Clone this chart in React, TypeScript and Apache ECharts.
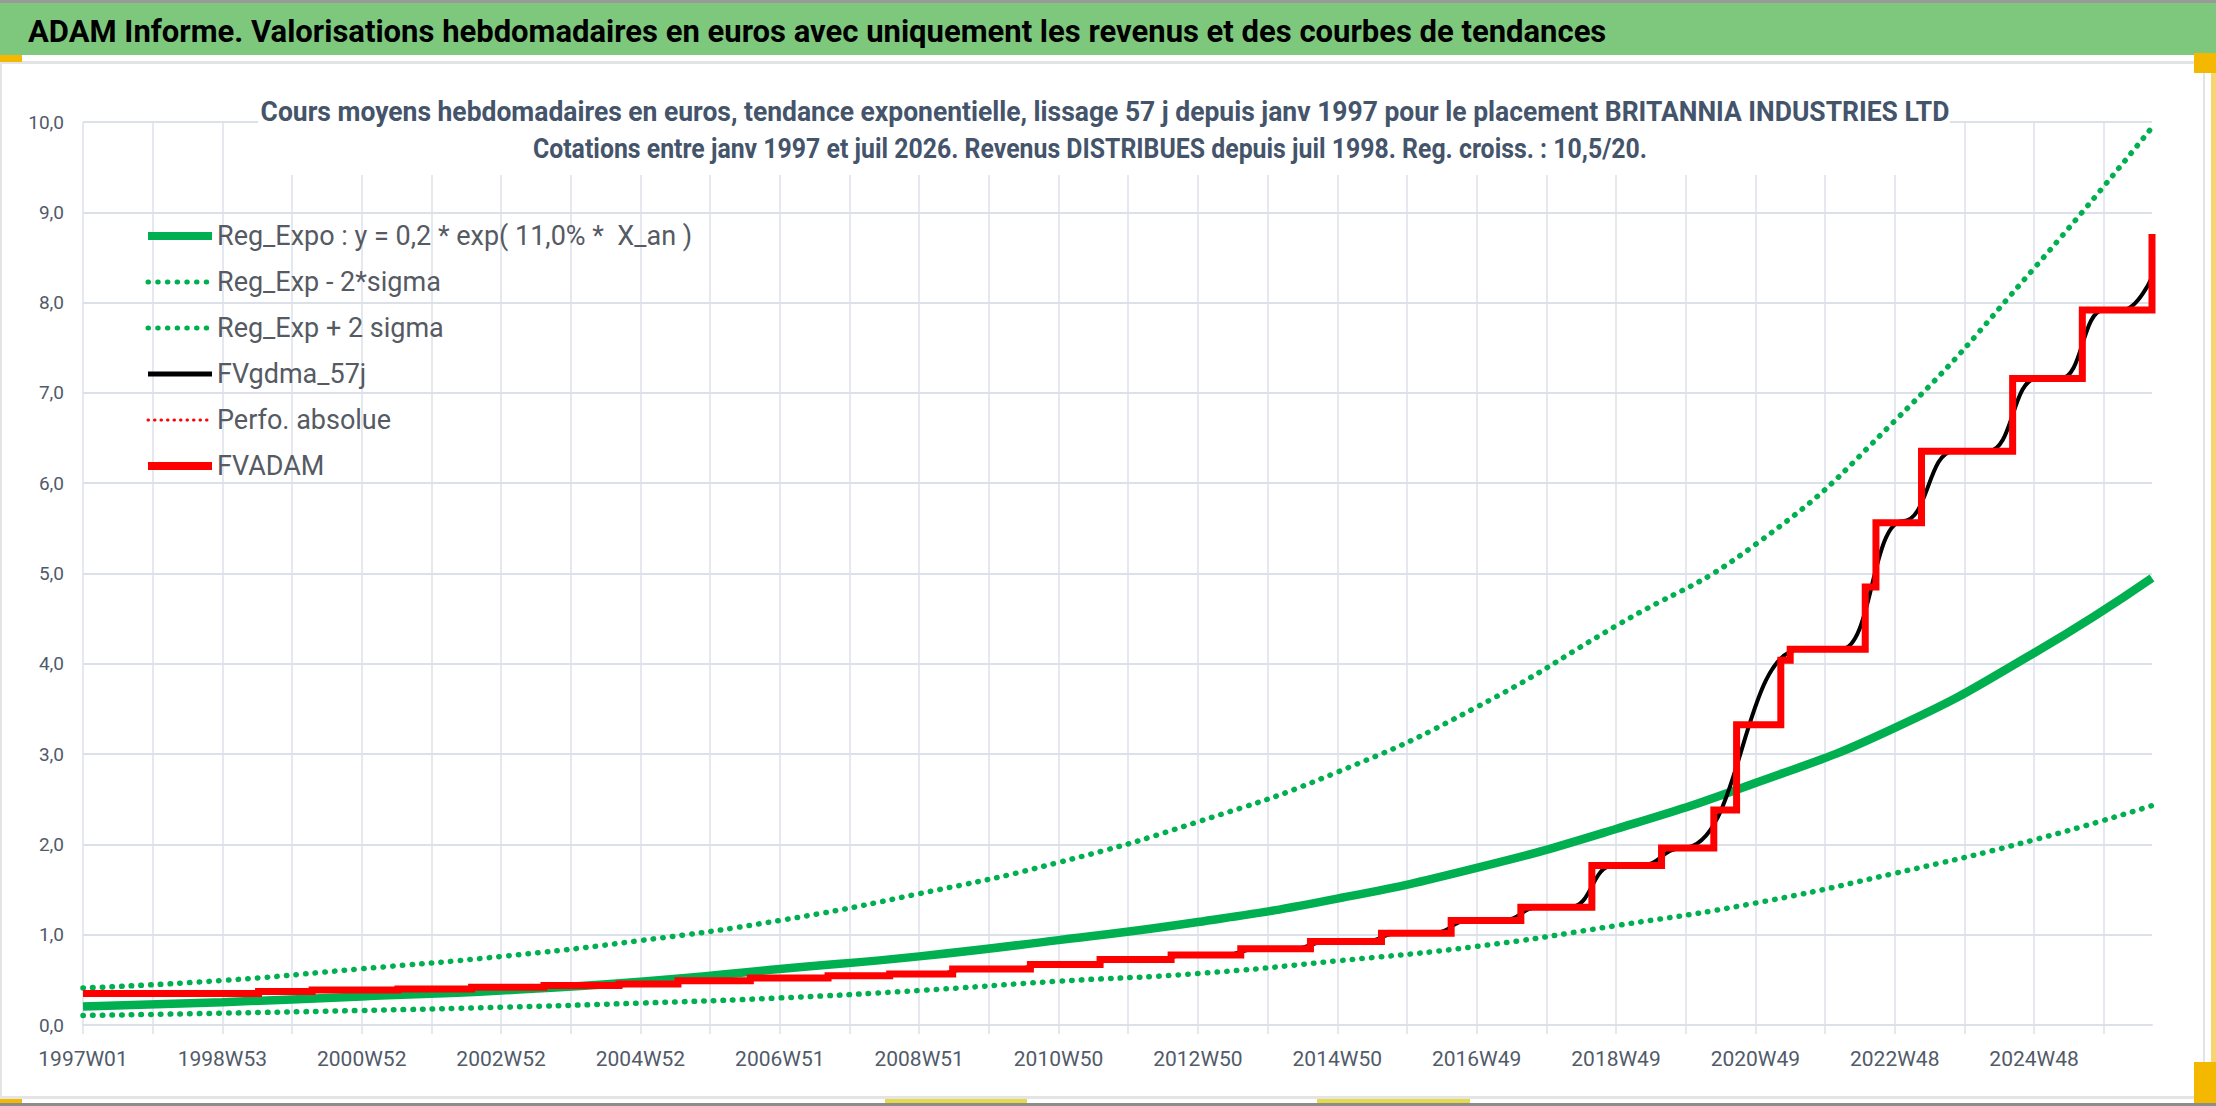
import React, { useEffect, useRef } from "react";
import * as echarts from "echarts";

const FONT = "Roboto, 'Liberation Sans', sans-serif";
const GRID = "#DCE0E8";
const LABEL = "#515A69";
const GREEN = "#00B050";

const mainTitle =
  "ADAM Informe. Valorisations hebdomadaires en euros avec uniquement les revenus et des courbes de tendances";
const subTitle1 =
  "Cours moyens hebdomadaires en euros, tendance exponentielle, lissage 57 j depuis janv 1997 pour le placement BRITANNIA INDUSTRIES LTD";
const subTitle2 =
  "Cotations entre janv 1997 et juil 2026. Revenus DISTRIBUES depuis juil 1998. Reg. croiss. : 10,5/20.";

// one label every 104 weeks
const xTickLabels = [
  "1997W01", "1998W53", "2000W52", "2002W52", "2004W52", "2006W51", "2008W51",
  "2010W50", "2012W50", "2014W50", "2016W49", "2018W49", "2020W49", "2022W48", "2024W48",
];

const seriesNames = [
  "Reg_Expo : y = 0,2 * exp( 11,0% *  X_an )",
  "Reg_Exp - 2*sigma",
  "Reg_Exp + 2 sigma",
  "FVgdma_57j",
  "Perfo. absolue",
  "FVADAM",
];

// week index (from 1997W01) of the trend readings
const trendWeeks = [0, 104, 208, 312, 416, 520, 624, 728, 832, 936, 1040, 1144, 1248, 1352, 1456, 1544];
const regExpo = [0.205, 0.253, 0.316, 0.382, 0.48, 0.62, 0.76, 0.94, 1.14, 1.4, 1.74, 2.17, 2.68, 3.29, 4.12, 4.95];
const regExpMinus = [0.105, 0.131, 0.161, 0.197, 0.243, 0.3, 0.382, 0.485, 0.57, 0.71, 0.87, 1.1, 1.35, 1.68, 2.05, 2.43];
const regExpPlus = [0.41, 0.493, 0.623, 0.759, 0.935, 1.158, 1.454, 1.8, 2.25, 2.8, 3.52, 4.42, 5.32, 6.69, 8.38, 9.94];

// [week, value] : value reached at that week
const fvAdam = [
  [0, 0.35], [131, 0.372], [171, 0.387], [235, 0.4], [290, 0.418], [344, 0.438],
  [400, 0.455], [444, 0.49], [498, 0.52], [556, 0.545], [602, 0.565], [649, 0.62],
  [707, 0.67], [759, 0.725], [812, 0.774], [864, 0.844], [916, 0.925], [969, 1.017],
  [1021, 1.158], [1073, 1.305], [1126, 1.767], [1178, 1.96], [1217, 2.38], [1234, 3.325],
  [1267, 4.04], [1274, 4.16], [1330, 4.85], [1338, 5.562], [1372, 6.355], [1440, 7.16],
  [1492, 7.918], [1544, 8.76],
];

const fvGdma = [
  [0, 0.35], [121, 0.35], [141, 0.372], [161, 0.372], [181, 0.387], [225, 0.387],
  [245, 0.4], [280, 0.4], [300, 0.418], [334, 0.418], [354, 0.438], [390, 0.438],
  [410, 0.455], [434, 0.455], [454, 0.49], [488, 0.49], [508, 0.52], [546, 0.52],
  [566, 0.545], [592, 0.545], [612, 0.565], [639, 0.565], [659, 0.62], [697, 0.62],
  [717, 0.67], [749, 0.67], [769, 0.725], [802, 0.725], [822, 0.774], [852, 0.774],
  [876, 0.844], [904, 0.844], [928, 0.925], [957, 0.925], [981, 1.017], [1007, 1.017],
  [1035, 1.158], [1059, 1.158], [1087, 1.305], [1110, 1.305], [1142, 1.767], [1162, 1.767],
  [1194, 1.96], [1282, 4.16], [1312, 4.16], [1358, 5.58], [1396, 6.355], [1422, 6.355],
  [1458, 7.16], [1476, 7.16], [1508, 7.918], [1522, 7.918], [1544, 8.28],
];

const perfoAbsolue: number[][] = [];

const pairs = (vals: number[]) => vals.map((v, i) => [trendWeeks[i], v]);

const dotted = [0.5, 9.2];
const hiddenSymbol = { opacity: 0 };

const App: React.FC = () => {
  const chartRef = useRef<HTMLDivElement>(null);

  useEffect(() => {
    const chart = echarts.init(chartRef.current!, undefined, { renderer: "svg" });

    const option: echarts.EChartsOption = {
      animation: false,
      backgroundColor: "#ffffff",
      grid: { left: 83, right: 64, top: 122, bottom: 81 },
      legend: {
        orient: "vertical",
        left: 144,
        top: 221,
        padding: 0,
        itemWidth: 64,
        itemHeight: 14,
        itemGap: 16,
        selectedMode: false,
        textStyle: { fontFamily: FONT, fontSize: 27, color: "#555A63", lineHeight: 30 },
        data: [
          { name: seriesNames[0], lineStyle: { width: 8 }, itemStyle: hiddenSymbol },
          { name: seriesNames[1], lineStyle: { width: 5 }, itemStyle: hiddenSymbol },
          { name: seriesNames[2], lineStyle: { width: 5 }, itemStyle: hiddenSymbol },
          { name: seriesNames[3], lineStyle: { width: 5 }, itemStyle: hiddenSymbol },
          { name: seriesNames[4], lineStyle: { width: 3 }, itemStyle: hiddenSymbol },
          { name: seriesNames[5], lineStyle: { width: 8 }, itemStyle: hiddenSymbol },
        ],
      } as any,
      xAxis: {
        type: "value",
        min: 0,
        max: 1544,
        interval: 52,
        axisLine: { show: true, lineStyle: { color: GRID, width: 2 } },
        axisTick: { show: true, length: 9, lineStyle: { color: GRID, width: 1.5 } },
        splitLine: { show: true, showMaxLine: false, lineStyle: { color: GRID, width: 1.5 } },
        axisLabel: {
          fontFamily: FONT,
          fontSize: 21,
          color: LABEL,
          margin: 23,
          showMaxLabel: false,
          formatter: (v: number) => (v % 104 === 0 ? xTickLabels[v / 104] ?? "" : ""),
        },
      } as any,
      yAxis: {
        type: "value",
        min: 0,
        max: 10,
        interval: 1,
        axisLine: { show: false },
        axisTick: { show: false },
        splitLine: { show: true, lineStyle: { color: GRID, width: 2 } },
        axisLabel: {
          fontFamily: FONT,
          fontSize: 19,
          color: LABEL,
          margin: 19,
          formatter: (v: number) => v.toFixed(1).replace(".", ","),
        },
      },
      series: [
        {
          name: seriesNames[0],
          type: "line",
          data: pairs(regExpo),
          smooth: true,
          symbol: "none",
          lineStyle: { color: GREEN, width: 8.5 },
          itemStyle: { color: GREEN },
        },
        {
          name: seriesNames[1],
          type: "line",
          data: pairs(regExpMinus),
          smooth: true,
          symbol: "none",
          lineStyle: { color: GREEN, width: 5.5, type: dotted, cap: "round" },
          itemStyle: { color: GREEN },
        },
        {
          name: seriesNames[2],
          type: "line",
          data: pairs(regExpPlus),
          smooth: true,
          symbol: "none",
          lineStyle: { color: GREEN, width: 5.5, type: dotted, cap: "round" },
          itemStyle: { color: GREEN },
        },
        {
          name: seriesNames[3],
          type: "line",
          data: fvGdma,
          smooth: 0.5,
          smoothMonotone: "x",
          symbol: "none",
          lineStyle: { color: "#000000", width: 4 },
          itemStyle: { color: "#000000" },
        },
        {
          name: seriesNames[4],
          type: "line",
          data: perfoAbsolue,
          symbol: "none",
          lineStyle: { color: "#FF0000", width: 3, type: [0.5, 6], cap: "round" },
          itemStyle: { color: "#FF0000" },
        },
        {
          name: seriesNames[5],
          type: "line",
          data: fvAdam,
          step: "end",
          symbol: "none",
          lineStyle: { color: "#FF0000", width: 7, join: "miter" },
          itemStyle: { color: "#FF0000" },
        },
      ],
      graphic: [
        { type: "rect", shape: { x: 0, y: 0, width: 2216, height: 3 }, style: { fill: "#9A9A9A" }, silent: true },
        { type: "rect", shape: { x: 0, y: 3, width: 2216, height: 52 }, style: { fill: "#7EC87E" }, silent: true },
        { type: "rect", shape: { x: 0, y: 61, width: 2205, height: 3 }, style: { fill: "#E4E4E4" }, silent: true },
        { type: "rect", shape: { x: 0, y: 64, width: 2, height: 1034 }, style: { fill: "#E4E4E4" }, silent: true },
        { type: "rect", shape: { x: 2203, y: 64, width: 2, height: 1034 }, style: { fill: "#E4E4E4" }, silent: true },
        { type: "rect", shape: { x: 0, y: 1096, width: 2205, height: 3 }, style: { fill: "#E4E4E4" }, silent: true },
        { type: "rect", shape: { x: 0, y: 1103, width: 2216, height: 3 }, style: { fill: "#8C8C8C" }, silent: true },
        { type: "rect", shape: { x: 0, y: 55, width: 22, height: 7 }, style: { fill: "#F5B800" }, silent: true },
        { type: "rect", shape: { x: 2194, y: 53, width: 22, height: 20 }, style: { fill: "#F5B800" }, silent: true },
        { type: "rect", shape: { x: 2211, y: 73, width: 5, height: 990 }, style: { fill: "#F8D470" }, silent: true },
        { type: "rect", shape: { x: 2194, y: 1062, width: 22, height: 41 }, style: { fill: "#F5B800" }, silent: true },
        { type: "rect", shape: { x: 0, y: 1099, width: 22, height: 4 }, style: { fill: "#F5B800" }, silent: true },
        { type: "rect", shape: { x: 885, y: 1099, width: 142, height: 4 }, style: { fill: "#E6D94C" }, silent: true },
        { type: "rect", shape: { x: 1317, y: 1099, width: 153, height: 4 }, style: { fill: "#E6D94C" }, silent: true },
        {
          type: "text",
          x: 28,
          y: 31,
          silent: true,
          style: {
            text: mainTitle,
            fontFamily: FONT,
            fontSize: 31,
            fontWeight: "bold",
            fill: "#000000",
            textVerticalAlign: "middle",
          } as any,
        },
        {
          type: "rect",
          z: 50,
          shape: { x: 258, y: 86, width: 1692, height: 89 },
          style: { fill: "#ffffff" },
          silent: true,
        },
        {
          type: "text",
          z: 51,
          x: 1105,
          y: 112,
          scaleX: 0.98,
          silent: true,
          style: {
            text: subTitle1,
            fontFamily: FONT,
            fontSize: 27,
            fontWeight: "bold",
            fill: "#44546A",
            textAlign: "center",
            textVerticalAlign: "middle",
          } as any,
        },
        {
          type: "text",
          z: 51,
          x: 1090,
          y: 149,
          scaleX: 0.92,
          silent: true,
          style: {
            text: subTitle2,
            fontFamily: FONT,
            fontSize: 27,
            fontWeight: "bold",
            fill: "#44546A",
            textAlign: "center",
            textVerticalAlign: "middle",
          } as any,
        },
      ],
    };

    chart.setOption(option);

    return () => {
      chart.dispose();
    };
  }, []);

  return (
    <div
      ref={chartRef}
      style={{ position: "fixed", left: 0, top: 0, width: "2216px", height: "1106px", background: "#fff" }}
    />
  );
};

export default App;
